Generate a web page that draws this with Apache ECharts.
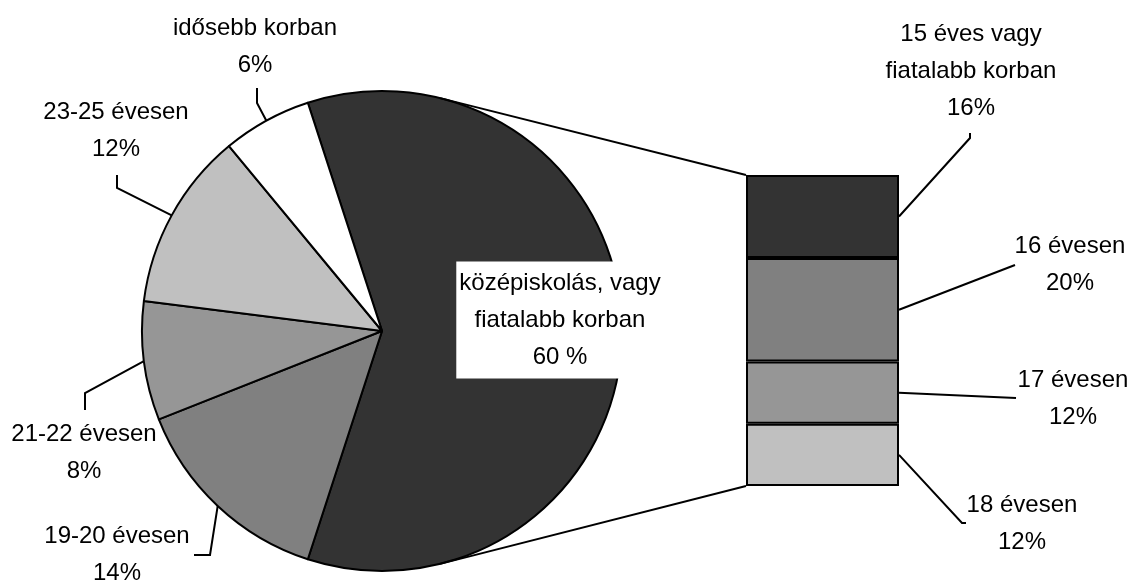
<!DOCTYPE html>
<html>
<head>
<meta charset="utf-8">
<title>Pie of bar</title>
<script src="https://cdn.jsdelivr.net/npm/echarts@6/dist/echarts.min.js"></script>
<style>
  html, body { margin: 0; padding: 0; background: #fff; }
  #chart { width: 1133px; height: 585px; }
</style>
</head>
<body>
<div id="chart"></div>
<script>
// pie slices (clockwise from the split slice)
const pieNames = ["középiskolás, vagy\nfiatalabb korban", "19-20 évesen", "21-22 évesen", "23-25 évesen", "idősebb korban"];
const pieValues = [60, 14, 8, 12, 6];
const pieColors = ["#333333", "#808080", "#969696", "#c0c0c0", "#ffffff"];

// breakdown of the split slice (top to bottom)
const barNames = ["15 éves vagy\nfiatalabb korban", "16 évesen", "17 évesen", "18 évesen"];
const barValues = [16, 20, 12, 12];
const barColors = ["#333333", "#808080", "#969696", "#c0c0c0"];

// layout
const pieCenter = [382, 331];
const pieRadius = 240;
const barGrid = { left: 746, top: 175, width: 153, height: 311 };

const pieLabelPos = [
  { x: 560, y: 320 },
  { x: 117, y: 555, line: [[210, 555], [194, 555]] },
  { x: 84, y: 453, line: [[85, 393], [85, 410]] },
  { x: 116, y: 131, line: [[117, 188], [117, 175]] },
  { x: 255, y: 47, line: [[257, 103], [257, 88]] }
];
const barLabelPos = [
  { x: 971, y: 71, line: [[970, 138], [970, 133]] },
  { x: 1070, y: 265, line: [[1015, 265]] },
  { x: 1073, y: 399, line: [[1016, 398]] },
  { x: 1022, y: 524, line: [[962, 523], [966, 523]] }
];

const textStyle = {
  color: "#000",
  fontFamily: "Liberation Sans, Arial, sans-serif",
  fontSize: 24,
  lineHeight: 37,
  overflow: "none"
};
const lineStyle = { color: "#000", width: 2 };

const chart = echarts.init(document.getElementById("chart"));

const pieData = pieNames.map((name, i) => {
  const item = { name: name, value: pieValues[i], itemStyle: { color: pieColors[i] } };
  if (i === 0) {
    item.label = { position: "inside", backgroundColor: "#fff", padding: [3, 3] };
    item.labelLine = { show: false };
  }
  return item;
});

const barSeries = barNames.map((name, i) => ({
  type: "bar",
  name: name,
  stack: "total",
  barWidth: "100%",
  silent: true,
  data: [barValues[i]],
  itemStyle: { color: barColors[i], borderColor: "#000", borderWidth: 2 },
  label: Object.assign({ show: true, position: "right", formatter: "{a}\n{c}%" }, textStyle),
  labelLayout: function () {
    const p = barLabelPos[i];
    return { x: p.x, y: p.y, align: "center", verticalAlign: "middle" };
  }
}));

const option = {
  animation: false,
  backgroundColor: "#fff",
  grid: barGrid,
  xAxis: { type: "category", data: [""], show: false },
  yAxis: { type: "value", min: 0, max: 60, inverse: true, show: false },
  series: [
    {
      type: "pie",
      center: pieCenter,
      radius: pieRadius,
      startAngle: 108,
      clockwise: true,
      silent: true,
      itemStyle: { borderColor: "#000", borderWidth: 2 },
      label: Object.assign({ show: true, position: "outside", formatter: function (p) {
        return p.dataIndex === 0 ? p.name + "\n" + p.value + " %" : p.name + "\n" + p.value + "%";
      } }, textStyle),
      labelLine: { show: true, lineStyle: lineStyle },
      labelLayout: function (params) {
        const p = pieLabelPos[params.dataIndex];
        const res = { x: p.x, y: p.y, align: "center", verticalAlign: "middle" };
        if (p.line && params.labelLinePoints) {
          res.labelLinePoints = [params.labelLinePoints[0], p.line[0], p.line[1]];
        }
        return res;
      },
      data: pieData
    }
  ].concat(barSeries)
};

chart.setOption(option);

// connector lines from the pie to the bar, and bar label leader lines
const total = barValues.reduce((a, b) => a + b, 0);
const barTop = chart.convertToPixel({ yAxisIndex: 0 }, 0);
const barBottom = chart.convertToPixel({ yAxisIndex: 0 }, total);
const barRight = barGrid.left + barGrid.width;
const tangentAngle = 14 * Math.PI / 180;
const upper = [pieCenter[0] + pieRadius * Math.sin(tangentAngle), pieCenter[1] - pieRadius * Math.cos(tangentAngle)];
const lower = [upper[0], pieCenter[1] + pieRadius * Math.cos(tangentAngle)];
const stroke = { stroke: "#000", lineWidth: 2, fill: null };

const graphics = [
  { type: "line", shape: { x1: upper[0], y1: upper[1], x2: barGrid.left, y2: barTop }, style: stroke, z: 10 },
  { type: "line", shape: { x1: lower[0], y1: lower[1], x2: barGrid.left, y2: barBottom }, style: stroke, z: 10 }
];
let cum = 0;
barValues.forEach((v, i) => {
  const midY = chart.convertToPixel({ yAxisIndex: 0 }, cum + v / 2);
  cum += v;
  graphics.push({
    type: "polyline",
    shape: { points: [[barRight, midY]].concat(barLabelPos[i].line) },
    style: stroke,
    z: 10
  });
});

chart.setOption({ graphic: graphics });
</script>
</body>
</html>
